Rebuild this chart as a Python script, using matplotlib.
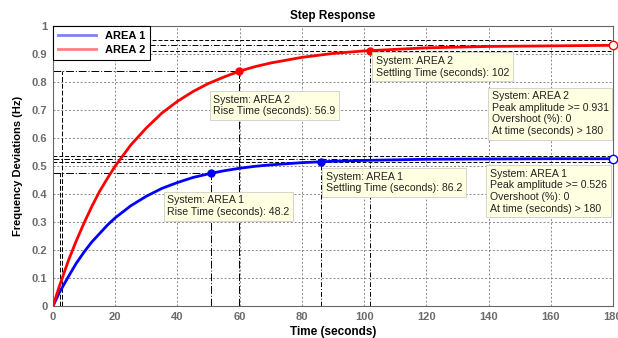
import numpy as np
import matplotlib.pyplot as plt

plt.rcParams['font.family'] = ['Liberation Sans', 'DejaVu Sans']

# step response
time = [0, 2, 5, 7.5, 10, 12.5, 15, 17.5, 20, 25, 30, 35, 40, 45, 50, 55, 60, 65, 70,
        80, 90, 100, 120, 140, 160, 180]
area1 = [0, 0.047, 0.106, 0.153, 0.193, 0.229, 0.259, 0.289, 0.315, 0.358, 0.392, 0.420,
         0.441, 0.459, 0.472, 0.483, 0.492, 0.499, 0.504, 0.512, 0.517, 0.520, 0.524,
         0.525, 0.526, 0.526]
area2 = [0, 0.069, 0.164, 0.233, 0.297, 0.356, 0.410, 0.456, 0.500, 0.575, 0.636, 0.689,
         0.731, 0.766, 0.795, 0.818, 0.839, 0.855, 0.868, 0.888, 0.902, 0.911, 0.922,
         0.927, 0.929, 0.931]

final1, final2 = 0.526, 0.931
rise_t1, rise_t2 = 2.3, 2.8          # 10% crossing
rise_end1, rise_end2 = 50.8, 59.7    # 90% crossing
settle1, settle2 = 86.2, 102
labels = ["AREA 1", "AREA 2"]

fig = plt.figure(figsize=(6.18, 3.38), dpi=100)
ax = fig.add_axes([53/618, 32/338, 560/618, 280/338])

ax.set_xlim(0, 180)
ax.set_ylim(0, 1)
ax.set_xticks(np.arange(0, 181, 20))
ax.set_yticks(np.arange(0, 1.01, 0.1))
ax.set_yticklabels(["0", "0.1", "0.2", "0.3", "0.4", "0.5", "0.6", "0.7", "0.8", "0.9", "1"])
ax.tick_params(labelsize=8, labelcolor='#6b6b6b', length=0, pad=4)
for lab in ax.get_xticklabels() + ax.get_yticklabels():
    lab.set_fontweight('bold')
ax.grid(True, linestyle=(0, (2, 2)), color='#888888', linewidth=0.7)
for s in ax.spines.values():
    s.set_color('#666666')
    s.set_linewidth(0.8)

# characteristic lines (black dash-dot / dashed)
kw = dict(color='k', linewidth=0.7, zorder=2)
for fin, r0, r1, st in [(final1, rise_t1, rise_end1, settle1), (final2, rise_t2, rise_end2, settle2)]:
    ax.plot([0, 180], [fin, fin], linestyle=(0, (6, 2, 1, 2)), **kw)
    ax.plot([0, 180], [fin * 1.02, fin * 1.02], linestyle=(0, (4, 2)), **kw)
    ax.plot([0, 180], [fin * 0.98, fin * 0.98], linestyle=(0, (4, 2)), **kw)
    ax.plot([0, r1], [fin * 0.9, fin * 0.9], linestyle=(0, (8, 2, 1, 2)), **kw)
    ax.plot([r1, r1], [0, fin * 0.9], linestyle=(0, (8, 2, 1, 2)), **kw)
    ax.plot([r0, r0], [0, fin * 0.9], linestyle=(0, (5, 2)), **kw)
    ax.plot([st, st], [0, fin * 0.98], linestyle=(0, (5, 2, 1, 2)), **kw)

ax.plot(time, area1, color='#0000ff', linewidth=2, zorder=4)
ax.plot(time, area2, color='#ff0000', linewidth=2, zorder=4)

# markers
ax.plot([rise_end1, settle1], [final1 * 0.9, final1 * 0.98], 'o', color='#0000ff', ms=5, zorder=5)
ax.plot([rise_end2, settle2], [final2 * 0.9, final2 * 0.98], 'o', color='#ff0000', ms=5, zorder=5)
ax.plot([180], [final1], 'o', mfc='white', mec='#0000ff', ms=6, clip_on=False, zorder=6)
ax.plot([180], [final2], 'o', mfc='white', mec='#ff0000', ms=6, clip_on=False, zorder=6)

box = dict(boxstyle='square,pad=0.35', facecolor='#ffffe1', edgecolor='#cccccc', linewidth=0.6)
notes = [
    (51.5, 0.755, "System: AREA 2\nRise Time (seconds): 56.9"),
    (103.8, 0.893, "System: AREA 2\nSettling Time (seconds): 102"),
    (141.0, 0.767, "System: AREA 2\nPeak amplitude >= 0.931\nOvershoot (%): 0\nAt time (seconds) > 180"),
    (36.8, 0.395, "System: AREA 1\nRise Time (seconds): 48.2"),
    (87.8, 0.480, "System: AREA 1\nSettling Time (seconds): 86.2"),
    (140.5, 0.490, "System: AREA 1\nPeak amplitude >= 0.526\nOvershoot (%): 0\nAt time (seconds) > 180"),
]
for x, y, t in notes:
    ax.text(x, y, t, fontsize=7.6, color='#222222', ha='left', va='top', bbox=box,
            linespacing=1.2, zorder=7)

leg_h = [plt.Line2D([], [], color='#8080ff', lw=2), plt.Line2D([], [], color='#ff8080', lw=2)]
leg = ax.legend(leg_h, labels, loc='upper left', borderaxespad=0, fancybox=False,
                framealpha=1, edgecolor='k', prop={'weight': 'bold', 'size': 8},
                handlelength=3.4, borderpad=0.45, labelspacing=0.35)
leg.get_frame().set_linewidth(0.8)
leg.set_zorder(8)

ax.set_title("Step Response", fontsize=8.5, fontweight='bold', pad=5)
ax.set_xlabel("Time (seconds)", fontsize=8.5, fontweight='bold', labelpad=3)
ax.set_ylabel("Frequency Deviations (Hz)", fontsize=8, fontweight='bold', labelpad=6)

fig.savefig("out.png", dpi=100)
